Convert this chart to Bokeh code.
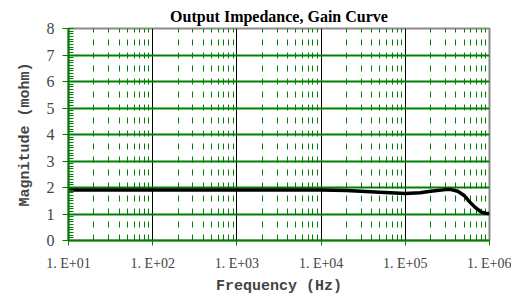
from bokeh.plotting import figure
from bokeh.models import FixedTicker, SingleIntervalTicker, Range1d
from bokeh.embed import file_html
from bokeh.resources import INLINE

# Data
freq = [10, 100, 1e3, 5e3, 1e4, 2e4, 5e4, 1e5, 1.5e5, 2e5, 3e5, 3.5e5, 4.2e5,
        5e5, 5.6e5, 6.7e5, 8e5, 9e5, 1e6]
mag = [1.91, 1.91, 1.91, 1.91, 1.91, 1.89, 1.82, 1.77, 1.80, 1.86, 1.92, 1.92, 1.86,
       1.70, 1.51, 1.26, 1.07, 1.03, 1.02]

x_ticks = [10, 100, 1000, 10000, 100000, 1000000]
x_tick_labels = ["1. E+01", "1. E+02", "1. E+03", "1. E+04", "1. E+05", "1. E+06"]
x_minor = [m * d for d in [10, 100, 1000, 10000, 100000] for m in range(2, 10)]

p = figure(width=511, height=287, x_axis_type="log",
           x_range=Range1d(10, 1e6), y_range=Range1d(0, 8),
           output_backend="svg", toolbar_location=None,
           title="Output Impedance, Gain Curve",
           min_border_left=68, min_border_right=22, min_border_top=28, min_border_bottom=47)
p.frame_width = 421
p.frame_height = 212

p.title.align = "center"
p.title.text_font = "Liberation Serif"
p.title.text_font_style = "bold"
p.title.text_font_size = "16px"
p.title.text_color = "black"
p.title.offset = 0
p.title.standoff = 8

p.background_fill_color = "white"
p.border_fill_color = "white"
p.outline_line_color = "#8a8a8a"
p.outline_line_width = 2

# x axis
p.xaxis.ticker = FixedTicker(ticks=x_ticks, minor_ticks=x_minor)
p.xaxis.major_label_overrides = {float(t): l for t, l in zip(x_ticks, x_tick_labels)}
p.xaxis.axis_label = "Frequency (Hz)"
p.xaxis.axis_label_text_font = "Liberation Mono"
p.xaxis.axis_label_text_font_style = "bold"
p.xaxis.axis_label_text_font_size = "15px"
p.xaxis.axis_label_standoff = 4
p.xaxis.major_label_text_font = "Liberation Serif"
p.xaxis.major_label_text_font_size = "14px"
p.xaxis.major_label_text_color = "#444444"
p.xaxis.major_label_standoff = 10
p.xaxis.axis_line_color = "#008000"
p.xaxis.axis_line_width = 2
p.xaxis.major_tick_line_color = "#008000"
p.xaxis.major_tick_out = 5
p.xaxis.major_tick_in = 0
p.xaxis.minor_tick_out = 0
p.xaxis.minor_tick_in = 0

# y axis
p.yaxis.ticker = SingleIntervalTicker(interval=1, num_minor_ticks=10)
p.yaxis.axis_label = "Magnitude (mohm)"
p.yaxis.axis_label_text_font = "Liberation Mono"
p.yaxis.axis_label_text_font_style = "bold"
p.yaxis.axis_label_text_font_size = "15px"
p.yaxis.axis_label_standoff = 10
p.yaxis.major_label_text_font = "Liberation Serif"
p.yaxis.major_label_text_font_size = "16px"
p.yaxis.major_label_text_color = "#444444"
p.yaxis.major_label_standoff = 8
p.yaxis.axis_line_color = "#008000"
p.yaxis.axis_line_width = 2
p.yaxis.major_tick_line_color = "#008000"
p.yaxis.major_tick_out = 6
p.yaxis.major_tick_in = 0
p.yaxis.minor_tick_line_color = "#008000"
p.yaxis.minor_tick_in = 5
p.yaxis.minor_tick_out = 0

# grids
p.xgrid.grid_line_color = "black"
p.xgrid.grid_line_width = 1
p.xgrid.minor_grid_line_color = "#008000"
p.xgrid.minor_grid_line_dash = "6 7"
p.xgrid.minor_grid_line_width = 1
p.ygrid.grid_line_color = "#008000"
p.ygrid.grid_line_width = 2

p.line(freq, mag, line_color="black", line_width=3.5, line_join="round")

open("out.html", "w").write(file_html(p, INLINE))
